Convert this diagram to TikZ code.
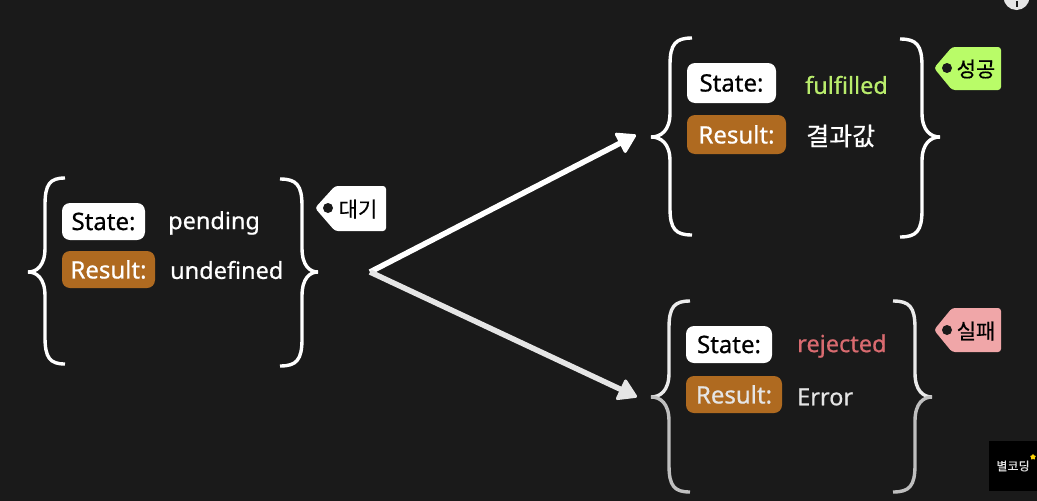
\documentclass[tikz,border=0pt]{standalone}
\usepackage{fontspec}
\setmainfont{Noto Sans}[FakeBold=0.6]
\newfontfamily\kr{Noto Sans CJK KR}[FakeBold=0.5]
\usetikzlibrary{arrows.meta,shapes.geometric}
\definecolor{bg}{HTML}{1A1A1A}
\definecolor{brown}{HTML}{AF6A20}
\definecolor{okgreen}{HTML}{B9FC68}
\definecolor{okword}{HTML}{B9EC6C}
\definecolor{badpink}{HTML}{F0A6A8}
\definecolor{badword}{HTML}{D96B70}
% #1 end x, #2 spine x, #3 tip x, #4 top y, #5 middle y, #6 bottom y
\newcommand{\bracetop}[6]{({#1},{#4}) .. controls ({#2+(#1-#2)*0.25},{#4}) and ({#2},{#4+6}) .. ({#2},{#4+27})
  -- ({#2},{#5-24}) .. controls ({#2},{#5-6}) and ({#3+(#2-#3)*0.5},{#5}) .. ({#3},{#5})}
\newcommand{\bracebot}[6]{({#3},{#5}) .. controls ({#3+(#2-#3)*0.5},{#5}) and ({#2},{#5+6}) .. ({#2},{#5+24})
  -- ({#2},{#6-27}) .. controls ({#2},{#6-6}) and ({#2+(#1-#2)*0.25},{#6}) .. ({#1},{#6})}
\tikzset{
  brace/.style={draw=white,line width=3.4pt},
  keywhite/.style={fill=white,text=black,rounded corners=8pt,inner sep=0pt,font=\fontsize{24}{24}\selectfont},
  keybrown/.style={fill=brown,text=white,rounded corners=8pt,inner sep=0pt,font=\fontsize{24}{24}\selectfont},
  word/.style={inner sep=0pt,anchor=west,text=white,font=\fontsize{23.5}{24}\selectfont},
  tagbox/.style={rounded corners=3pt},
  tagword/.style={inner sep=0pt,text=black,font=\kr\fontsize{21}{21}\selectfont},
  arrow/.style={line width=5.5pt,-{Triangle[round,line width=3pt,length=20pt,width=24pt]}}
}
\begin{document}
\begin{tikzpicture}[x=1pt,y=-1pt]
  \useasboundingbox (0,0) rectangle (1037,501);
  \clip (0,0) rectangle (1037,501);
  \fill[bg] (0,0) rectangle (1037,501);
  % pending
  \draw[brace] \bracetop{65}{45}{28}{178}{272}{364};
  \draw[brace] \bracebot{65}{45}{28}{178}{272}{364};
  \draw[brace] \bracetop{280}{302}{318}{179}{272}{366};
  \draw[brace] \bracebot{280}{302}{318}{179}{272}{366};
  \node[keywhite,minimum width=83pt,minimum height=37pt] (s1) at (103.5,221.5) {\raisebox{-1pt}{State:}};
  \node[keybrown,minimum width=93pt,minimum height=37pt] (r1) at (108.5,269.5) {\raisebox{-1pt}{Result:}};
  \node[word] (v1) at (168,223) {pending};
  \node[word] (w1) at (170,270) {undefined};
  \fill[white,tagbox] (315,208) -- (335,186) -- (386,186) -- (386,231) -- (335,231) -- cycle;
  \fill[bg] (328,208) circle (5);
  \node[tagword] (t1) at (358,209) {대기};
  % fulfilled
  \draw[brace] \bracetop{692}{670}{651}{38}{137}{235};
  \draw[brace] \bracebot{692}{670}{651}{38}{137}{235};
  \draw[brace] \bracetop{900}{922}{940}{39}{137}{237};
  \draw[brace] \bracebot{900}{922}{940}{39}{137}{237};
  \node[keywhite,minimum width=89pt,minimum height=40pt] (s2) at (731.5,83) {\raisebox{-1pt}{State:}};
  \node[keybrown,minimum width=99pt,minimum height=39pt] (r2) at (736.5,134.5) {\raisebox{-1pt}{Result:}};
  \node[word,text=okword] (v2) at (805,85) {fulfilled};
  \node[word,font=\kr\fontsize{25}{25}\selectfont] (w2) at (806,136) {결과값};
  \fill[okgreen,tagbox] (934,68) -- (952,47) -- (1001,47) -- (1001,90) -- (952,90) -- cycle;
  \fill[bg] (947,68) circle (5);
  \node[tagword] (t2) at (976,69) {성공};
  % rejected
  \draw[brace,draw=white!92!black] \bracetop{690}{669}{651}{301}{397}{492};
  \draw[brace,draw=white!75!black] \bracebot{690}{669}{651}{301}{397}{492};
  \draw[brace,draw=white!92!black] \bracetop{893}{915}{932}{301}{397}{492};
  \draw[brace,draw=white!75!black] \bracebot{893}{915}{932}{301}{397}{492};
  \node[keywhite,minimum width=86pt,minimum height=37pt] (s3) at (729,344.5) {\raisebox{-1pt}{State:}};
  \node[keybrown,minimum width=96pt,minimum height=37pt,text=white!90!black] (r3) at (734,394.5) {\raisebox{-1pt}{Result:}};
  \node[word,text=badword] (v3) at (797,346) {rejected};
  \node[word,text=white!90!black] (w3) at (797,397) {Error};
  \fill[badpink,tagbox] (934,330) -- (952,308) -- (1001,308) -- (1001,352) -- (952,352) -- cycle;
  \fill[bg] (947,330) circle (5);
  \node[tagword] (t3) at (976,331) {실패};
  % arrows
  \coordinate (fork) at (370,272);
  \coordinate (up) at (636,135);
  \coordinate (down) at (637,397);
  \draw[arrow,draw=white] (fork) -- (up);
  \draw[arrow,draw=white!90!black] (fork) -- (down);
  % corner marks
  \fill[white!90!black] (1016.5,-3) circle (13);
  \draw[bg,line width=2pt] (1016.5,1) -- (1016.5,7);
  \fill[black] (989,441) rectangle (1037,491);
  \node[inner sep=0pt,text=white!90!black,font=\kr\fontsize{12}{12}\selectfont] (logo) at (1013,466) {별코딩};
  \node[star,star points=5,fill=yellow!70!orange,inner sep=0pt,minimum size=6pt] (mark) at (1033,457) {};
\end{tikzpicture}
\end{document}
